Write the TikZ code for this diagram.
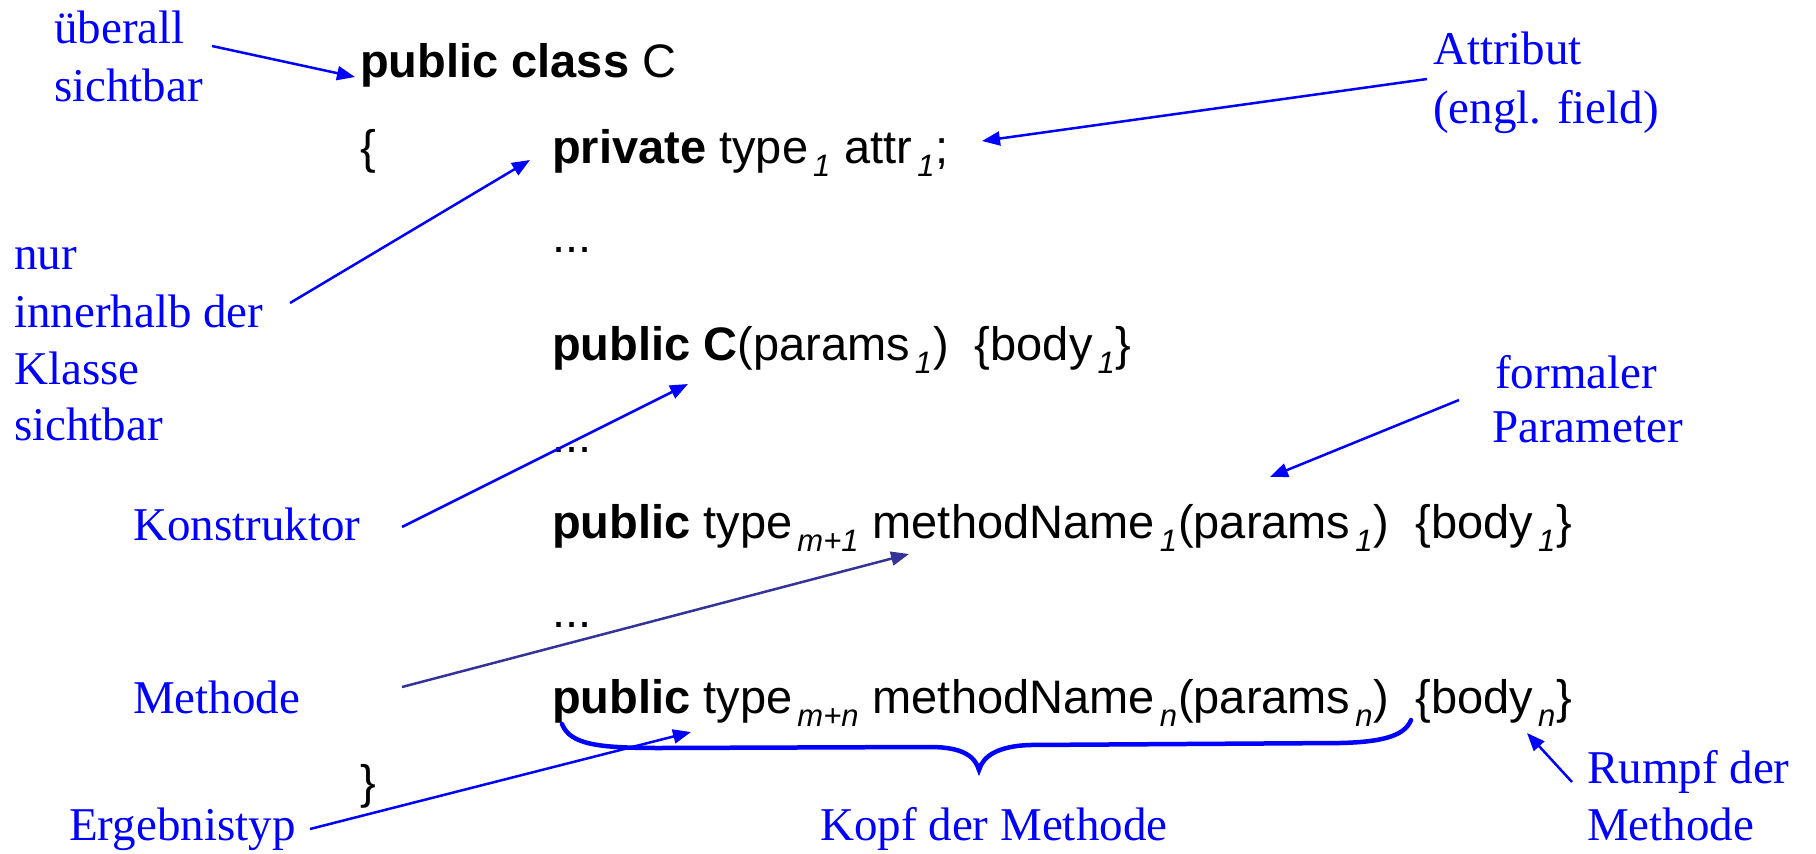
\documentclass[tikz,border=0pt]{standalone}
\usepackage{fontspec}
\setmainfont{Liberation Serif}
\newfontfamily\codefont{Liberation Sans}
\usetikzlibrary{arrows.meta}
\definecolor{lblue}{RGB}{0,0,255}
\definecolor{navyarr}{RGB}{51,51,153}
\newcommand\csub[1]{\hspace{5pt}\raisebox{-13pt}{\fontsize{31}{31}\selectfont\itshape #1}\hspace{1pt}}
\begin{document}
\begin{tikzpicture}[x=1pt,y=-1pt,
  code/.style={anchor=base west, inner sep=0pt, font=\codefont\fontsize{47}{56}\selectfont},
  lbl/.style={anchor=base west, inner sep=0pt, text=lblue, font=\fontsize{47}{56}\selectfont},
  arr/.style={draw=lblue, line width=2.5pt, -{Triangle[length=18pt,width=14pt]}},
  navarr/.style={arr, draw=navyarr, fill=navyarr},
  bracepath/.style={draw=lblue, line width=4.5pt, line cap=round}
]
\useasboundingbox (0,0) rectangle (1816,854);

% code
\node[code] (c1) at (360,77) {\textbf{public class} C};
\node[code] (ob) at (360,163) {\{};
\node[code] (c2) at (552,163) {\textbf{private} type\csub{1} attr\csub{1};};
\node[code] (d1) at (552,252) {...};
\node[code] (c4) at (552,360) {\textbf{public} \textbf{C}(params\csub{1})\ \ \{body\csub{1}\}};
\node[code] (d2) at (552,452) {...};
\node[code] (c6) at (552,538) {\textbf{public} type\csub{m+1} methodName\csub{1}(params\csub{1})\ \ \{body\csub{1}\}};
\node[code] (d3) at (552,627) {...};
\node[code] (c8) at (552,713) {\textbf{public} type\csub{m+n} methodName\csub{n}(params\csub{n})\ \ \{body\csub{n}\}};
\node[code] (cb) at (360,798) {\}};

% labels
\node[lbl] (ue1) at (54,43) {überall};
\node[lbl] (ue2) at (54,101) {sichtbar};
\node[lbl] (at1) at (1433,64) {Attribut};
\node[lbl] (at2) at (1433,123) {(engl. field)};
\node[lbl] (nu1) at (14,269) {nur};
\node[lbl] (nu2) at (14,327) {innerhalb der};
\node[lbl] (nu3) at (14,384) {Klasse};
\node[lbl] (nu4) at (14,440) {sichtbar};
\node[lbl] (ko) at (133,540) {Konstruktor};
\node[lbl] (fp1) at (1495,388) {formaler};
\node[lbl] (fp2) at (1492,442) {Parameter};
\node[lbl] (me) at (133,713) {Methode};
\node[lbl] (er) at (69,840) {Ergebnistyp};
\node[lbl] (kopf) at (820,840) {Kopf der Methode};
\node[lbl] (ru1) at (1587,783) {Rumpf der};
\node[lbl] (ru2) at (1587,840) {Methode};

% arrow end points
\coordinate (ueS) at (212,46);   \coordinate (ueT) at (355,77);
\coordinate (atS) at (1427,79);  \coordinate (atT) at (982,141);
\coordinate (nuS) at (290,303);  \coordinate (nuT) at (530,160);
\coordinate (koS) at (402,527);  \coordinate (koT) at (688,384);
\coordinate (fpS) at (1459,400); \coordinate (fpT) at (1270,477);
\coordinate (meS) at (402,687);  \coordinate (meT) at (909,554);
\coordinate (erS) at (310,829);  \coordinate (erT) at (691,732);
\coordinate (ruS) at (1572,782); \coordinate (ruT) at (1527,733);

\draw[arr] (ueS) -- (ueT);
\draw[arr] (atS) -- (atT);
\draw[arr] (nuS) -- (nuT);
\draw[arr] (koS) -- (koT);
\draw[arr] (fpS) -- (fpT);
\draw[navarr] (meS) -- (meT);
\draw[arr] (erS) -- (erT);
\draw[arr] (ruS) -- (ruT);

% brace under method head
\coordinate (brL) at (562,724);
\coordinate (brT) at (979,770);
\coordinate (brR) at (1411,720);
\draw[bracepath] (brL) .. controls (570,745) and (600,748) .. (660,748)
  -- (930,747) .. controls (962,747) and (975,756) .. (brT)
  .. controls (983,756) and (998,746) .. (1030,745)
  -- (1340,743) .. controls (1385,742) and (1405,735) .. (brR);
\end{tikzpicture}
\end{document}
